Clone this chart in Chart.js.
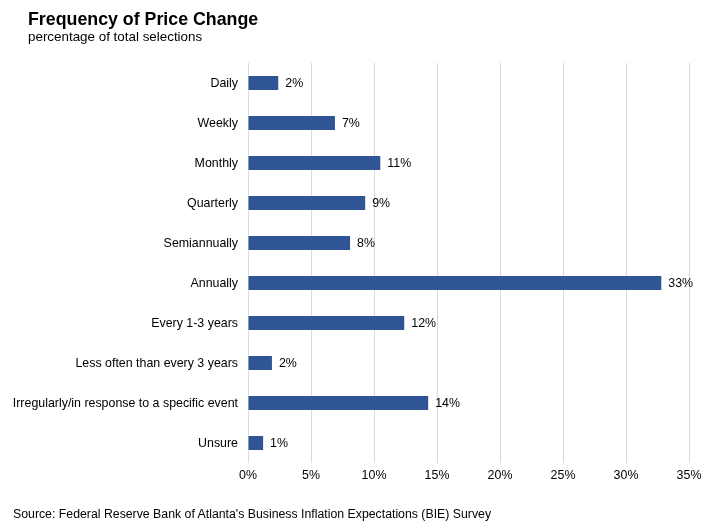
<!DOCTYPE html>
<html>
<head>
<meta charset="utf-8">
<script src="https://cdn.jsdelivr.net/npm/chart.js@4/dist/chart.umd.min.js"></script>
<style>
  html, body { margin: 0; padding: 0; background: #fff; }
  #wrap { position: relative; width: 720px; height: 529px; font-family: "Liberation Sans", Arial, sans-serif; color: #000; }
  #title { position: absolute; left: 28px; top: 9px; font-size: 17.8px; font-weight: bold; line-height: 20px; }
  #subtitle { position: absolute; left: 28px; top: 29px; font-size: 13.4px; line-height: 16px; }
  #source { position: absolute; left: 13px; top: 506px; font-size: 12.3px; line-height: 16px; }
  #box { position: absolute; left: 0; top: 0; width: 720px; height: 529px; }
</style>
</head>
<body>
<div id="wrap">
  <div id="box"><canvas id="chart"></canvas></div>
  <div id="title">Frequency of Price Change</div>
  <div id="subtitle">percentage of total selections</div>
  <div id="source">Source: Federal Reserve Bank of Atlanta's Business Inflation Expectations (BIE) Survey</div>
</div>
<script>
const categories = [
  'Daily',
  'Weekly',
  'Monthly',
  'Quarterly',
  'Semiannually',
  'Annually',
  'Every 1-3 years',
  'Less often than every 3 years',
  'Irregularly/in response to a specific event',
  'Unsure'
];
const shares = [2.4, 6.9, 10.5, 9.3, 8.1, 32.8, 12.4, 1.9, 14.3, 1.2];
const shareLabels = ['2%', '7%', '11%', '9%', '8%', '33%', '12%', '2%', '14%', '1%'];
const xTicks = [0, 5, 10, 15, 20, 25, 30, 35];

const FONT = '"Liberation Sans", Arial, sans-serif';

const barLabels = {
  id: 'barLabels',
  afterDatasetsDraw(chart) {
    const ctx = chart.ctx;
    const meta = chart.getDatasetMeta(0);
    ctx.save();
    ctx.font = '12.4px ' + FONT;
    ctx.fillStyle = '#000';
    ctx.textAlign = 'left';
    ctx.textBaseline = 'middle';
    meta.data.forEach((bar, i) => {
      ctx.fillText(shareLabels[i], bar.x + 7, bar.y + 1);
    });
    ctx.restore();
  }
};

new Chart(document.getElementById('chart'), {
  type: 'bar',
  data: {
    labels: categories,
    datasets: [{
      data: shares,
      backgroundColor: '#2F5597',
      barPercentage: 0.35,
      categoryPercentage: 1
    }]
  },
  options: {
    indexAxis: 'y',
    responsive: true,
    maintainAspectRatio: false,
    animation: false,
    layout: { padding: { top: 63, right: 31, left: 0, bottom: 0 } },
    plugins: { legend: { display: false }, tooltip: { enabled: false } },
    scales: {
      x: {
        min: 0,
        max: 35,
        afterBuildTicks: (scale) => { scale.ticks = xTicks.map(v => ({ value: v })); },
        afterFit: (scale) => { scale.height = 66; },
        grid: { color: '#d9d9d9', drawTicks: false },
        border: { display: false },
        ticks: {
          padding: 5,
          color: '#000',
          font: { family: FONT, size: 12.4 },
          callback: (v) => v + '%'
        }
      },
      y: {
        afterFit: (scale) => { scale.width = 248; },
        grid: { display: false, drawTicks: false },
        border: { display: false },
        ticks: {
          padding: 10,
          labelOffset: 1,
          color: '#000',
          font: { family: FONT, size: 12.4 }
        }
      }
    }
  },
  plugins: [barLabels]
});
</script>
</body>
</html>
